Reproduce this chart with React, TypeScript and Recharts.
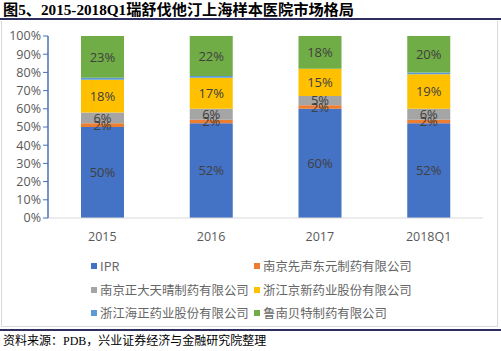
import React from "react";
import { BarChart, Bar, XAxis, YAxis, LabelList, Legend } from "recharts";

const categories = ["2015", "2016", "2017", "2018Q1"];
const ipr = [50, 52, 60, 52];
const xiansheng = [2, 2, 2, 2];
const zhengda = [6, 6, 5, 6];
const jingxin = [18, 17, 15, 19];
const haizheng = [1, 1, 0, 1];
const lunanbeite = [23, 22, 18, 20];
const yTicks = [0, 10, 20, 30, 40, 50, 60, 70, 80, 90, 100];

const seriesNames = [
  "IPR",
  "南京先声东元制药有限公司",
  "南京正大天晴制药有限公司",
  "浙江京新药业股份有限公司",
  "浙江海正药业股份有限公司",
  "鲁南贝特制药有限公司",
];
const seriesValues = [ipr, xiansheng, zhengda, jingxin, haizheng, lunanbeite];
const seriesColors = ["#4472C4", "#ED7D31", "#A5A5A5", "#FFC000", "#5B9BD5", "#70AD47"];
const seriesLabeled = [true, true, true, true, false, true];

const data = categories.map((c, i) => {
  const row: Record<string, any> = { name: c };
  seriesValues.forEach((vals, s) => {
    row["s" + s] = vals[i];
  });
  return row;
});

const CJK = '"Noto Sans CJK SC", "Noto Sans", sans-serif';
const SERIF = '"Liberation Serif", "Noto Sans CJK SC", serif';

const LegendContent = () => (
  <div style={{ position: "relative", width: 420, height: 70 }}>
    {seriesNames.map((n, i) => {
      const col = i % 2;
      const row = Math.floor(i / 2);
      return (
        <div
          key={n}
          style={{
            position: "absolute",
            left: col === 0 ? 0 : 163,
            top: row * 23.5,
            display: "flex",
            alignItems: "center",
            whiteSpace: "nowrap",
            fontFamily: CJK,
            fontSize: 12.4,
            color: "#666666",
            lineHeight: "18px",
          }}
        >
          <span
            style={{
              display: "inline-block",
              width: 6,
              height: 6,
              background: seriesColors[i],
              marginRight: 3,
            }}
          />
          <span>{n}</span>
        </div>
      );
    })}
  </div>
);

export default function App() {
  return (
    <div
      style={{
        position: "absolute",
        left: 0,
        top: 0,
        width: 501,
        height: 351,
        background: "#fff",
        overflow: "hidden",
      }}
    >
      <div
        style={{
          position: "absolute",
          left: 3,
          top: 1,
          fontFamily: SERIF,
          fontWeight: "bold",
          fontSize: 15.2,
          color: "#000",
          whiteSpace: "nowrap",
          lineHeight: "17px",
        }}
      >
        图5、2015-2018Q1瑞舒伐他汀上海样本医院市场格局
      </div>
      <div style={{ position: "absolute", left: 0, top: 18, width: 501, height: 2, background: "#2E2F5E" }} />
      <div
        style={{
          position: "absolute",
          left: 1,
          top: 21,
          width: 497,
          height: 306,
          border: "1px solid #D9D9D9",
          borderTop: "none",
          boxSizing: "border-box",
        }}
      />
      <div style={{ position: "absolute", left: 0, top: 22 }}>
        <BarChart
          width={501}
          height={303}
          data={data}
          margin={{ top: 14, right: 18, left: 8, bottom: 77 }}
          barSize={43}
        >
          <XAxis
            dataKey="name"
            axisLine={{ stroke: "#D9D9D9" }}
            tickLine={false}
            tick={{ fill: "#595959", fontSize: 12.5, fontFamily: '"Open Sans", sans-serif' }}
            tickMargin={8}
            height={30}
          />
          <YAxis
            domain={[0, 100]}
            ticks={yTicks}
            interval={0}
            tickFormatter={(v: number) => `${v}%`}
            axisLine={{ stroke: "#4A6FB5", strokeWidth: 1.5 }}
            tickLine={{ stroke: "#4A6FB5" }}
            tickSize={5}
            tick={{ fill: "#595959", fontSize: 12.5, fontFamily: '"Open Sans", sans-serif' }}
            width={40}
          />
          <Legend
            verticalAlign="middle"
            layout="horizontal"
            content={<LegendContent />}
            wrapperStyle={{ position: "absolute", left: 91, top: 235, width: 420 }}
          />
          {seriesNames.map((n, i) => (
            <Bar
              key={n}
              dataKey={"s" + i}
              name={n}
              stackId="a"
              fill={seriesColors[i]}
              isAnimationActive={false}
            >
              {seriesLabeled[i] && (
                <LabelList
                  dataKey={"s" + i}
                  position="center"
                  formatter={(v: any) => `${v}%`}
                  fill="#404040"
                  fontSize={13}
                  fontFamily='"Open Sans", sans-serif'
                />
              )}
            </Bar>
          ))}
        </BarChart>
      </div>
      <div style={{ position: "absolute", left: 0, top: 329, width: 501, height: 2, background: "#2E2F5E" }} />
      <div
        style={{
          position: "absolute",
          left: 3,
          top: 334,
          fontFamily: SERIF,
          fontSize: 12,
          color: "#000",
          whiteSpace: "nowrap",
          lineHeight: "15px",
        }}
      >
        资料来源：PDB，兴业证券经济与金融研究院整理
      </div>
    </div>
  );
}
